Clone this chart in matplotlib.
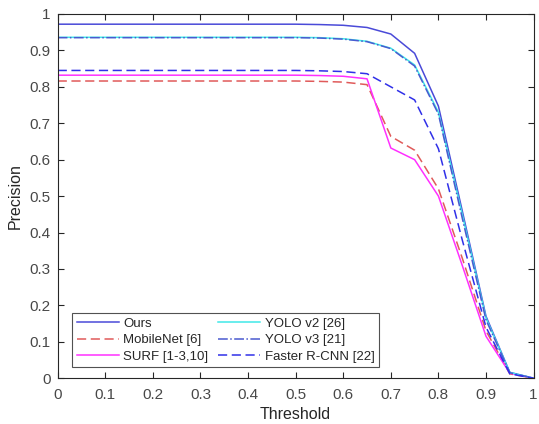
import numpy as np
import matplotlib
matplotlib.use("Agg")
import matplotlib.pyplot as plt

# 데이터
threshold = [0.0, 0.05, 0.1, 0.15, 0.2, 0.25, 0.3, 0.35, 0.4, 0.45, 0.5,
             0.55, 0.6, 0.65, 0.7, 0.75, 0.8, 0.85, 0.9, 0.95, 1.0]

ours = [0.972, 0.972, 0.972, 0.972, 0.972, 0.972, 0.972, 0.972, 0.972, 0.972, 0.972,
        0.971, 0.969, 0.963, 0.945, 0.892, 0.747, 0.46, 0.17, 0.016, 0.0]
mobilenet = [0.816, 0.816, 0.816, 0.816, 0.816, 0.816, 0.816, 0.816, 0.816, 0.816, 0.816,
             0.815, 0.813, 0.806, 0.664, 0.626, 0.52, 0.33, 0.13, 0.012, 0.0]
surf = [0.832, 0.832, 0.832, 0.832, 0.832, 0.832, 0.832, 0.832, 0.832, 0.832, 0.832,
        0.831, 0.829, 0.822, 0.632, 0.6, 0.5, 0.31, 0.115, 0.014, 0.0]
yolo_v2 = [0.936, 0.936, 0.936, 0.936, 0.936, 0.936, 0.936, 0.936, 0.936, 0.936, 0.936,
           0.935, 0.932, 0.925, 0.906, 0.86, 0.73, 0.45, 0.165, 0.016, 0.0]
yolo_v3 = [0.935, 0.935, 0.935, 0.935, 0.935, 0.935, 0.935, 0.935, 0.935, 0.935, 0.935,
           0.934, 0.931, 0.924, 0.905, 0.857, 0.725, 0.44, 0.16, 0.015, 0.0]
faster_rcnn = [0.845, 0.845, 0.845, 0.845, 0.845, 0.845, 0.845, 0.845, 0.845, 0.845, 0.845,
               0.844, 0.842, 0.836, 0.80, 0.764, 0.63, 0.38, 0.14, 0.012, 0.0]

tick_labels = ["0", "0.1", "0.2", "0.3", "0.4", "0.5", "0.6", "0.7", "0.8", "0.9", "1"]

plt.rcParams["font.family"] = ["Liberation Sans", "DejaVu Sans"]

fig = plt.figure(figsize=(5.39, 4.24), dpi=100)
ax = fig.add_axes([0.107, 0.108, 0.883, 0.859])

ax.plot(threshold, ours, "-", color="#4a4ad8", lw=1.1, label="Ours")
ax.plot(threshold, mobilenet, "--", color="#e05a5a", lw=1.1, dashes=(6, 3), label="MobileNet [6]")
ax.plot(threshold, surf, "-", color="#ff30ff", lw=1.1, label="SURF [1-3,10]")
ax.plot(threshold, yolo_v2, "-", color="#40e8e8", lw=1.1, label="YOLO v2 [26]")
ax.plot(threshold, yolo_v3, "-.", color="#4a5ad0", lw=1.1, label="YOLO v3 [21]")
ax.plot(threshold, faster_rcnn, "--", color="#3030e8", lw=1.1, dashes=(6, 3), label="Faster R-CNN [22]")

ax.set_xlim(0, 1)
ax.set_ylim(0, 1)
ax.set_xticks(np.arange(0, 1.01, 0.1))
ax.set_yticks(np.arange(0, 1.01, 0.1))
ax.set_xticklabels(tick_labels)
ax.set_yticklabels(tick_labels)
ax.tick_params(direction="in", top=True, right=True, length=4, width=0.8,
               labelsize=11, colors="#262626", labelcolor="#484848")
ax.tick_params(axis="x", pad=7)
ax.tick_params(axis="y", pad=5)
for s in ax.spines.values():
    s.set_color("#262626")
    s.set_linewidth(0.8)

ax.set_xlabel("Threshold", fontsize=11.5, color="#262626", labelpad=4)
ax.set_ylabel("Precision", fontsize=11.5, color="#262626", labelpad=5)

leg = ax.legend(loc="lower left", bbox_to_anchor=(0.03, 0.03), ncol=2, fontsize=9.5,
                frameon=True, fancybox=False, edgecolor="#262626", handlelength=3.2,
                handletextpad=0.35, columnspacing=0.7, borderpad=0.35, labelspacing=0.32,
                borderaxespad=0)
leg.get_frame().set_linewidth(0.8)
for t in leg.get_texts():
    t.set_color("#262626")

fig.savefig("out.png", dpi=100)
